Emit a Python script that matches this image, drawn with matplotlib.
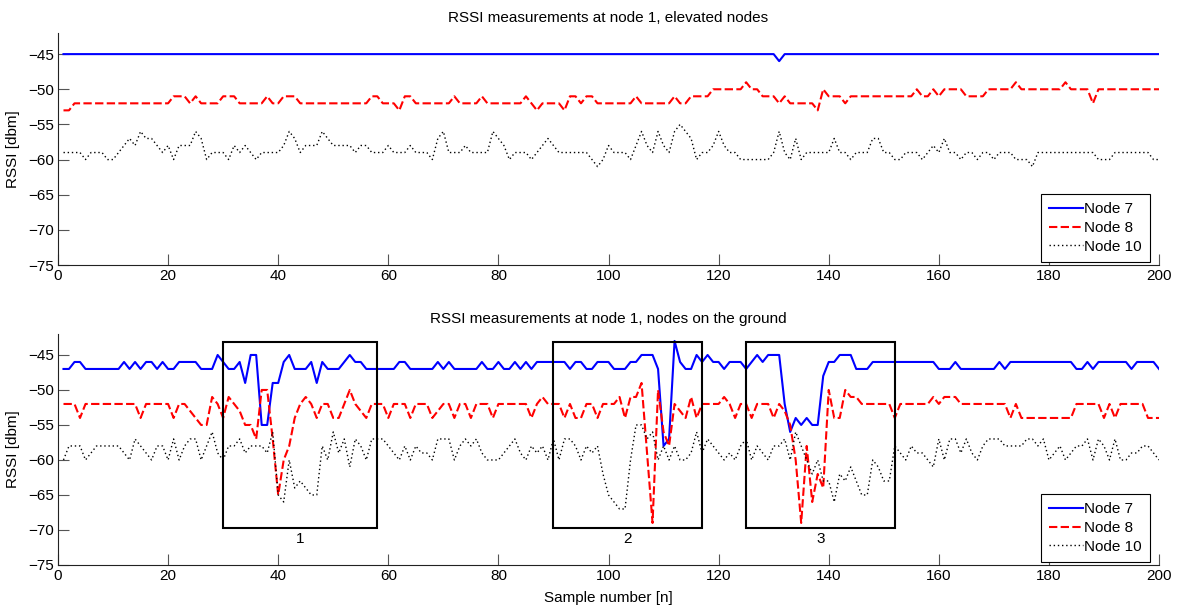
import numpy as np
import matplotlib
matplotlib.use('Agg')
import matplotlib.pyplot as plt
from matplotlib.patches import Rectangle

plt.rcParams['font.family'] = ['Liberation Sans', 'DejaVu Sans']

# sample index
n = np.arange(1, 201)

# --- elevated nodes (RSSI in dBm) ---
top_node7 = [-45] * 130 + [-46] + [-45] * 69

top_node8 = [
    -53, -53, -52, -52, -52, -52, -52, -52, -52, -52, -52, -52, -52, -52, -52, -52, -52, -52, -52, -52,
    -51, -51, -51, -52, -51, -52, -52, -52, -52, -51, -51, -51, -52, -52, -52, -52, -52, -51, -52, -52,
    -51, -51, -51, -52, -52, -52, -52, -52, -52, -52, -52, -52, -52, -52, -52, -52, -51, -51, -52, -52,
    -52, -53, -51, -51, -52, -52, -52, -52, -52, -52, -52, -51, -52, -52, -52, -52, -51, -52, -52, -52,
    -52, -52, -52, -52, -51, -52, -53, -52, -52, -52, -52, -53, -51, -51, -52, -51, -51, -52, -52, -52,
    -52, -52, -52, -52, -51, -52, -52, -52, -52, -52, -52, -51, -52, -52, -51, -51, -51, -51, -50, -50,
    -50, -50, -50, -50, -49, -50, -50, -51, -51, -51, -52, -51, -52, -52, -52, -52, -52, -53, -50, -51,
    -51, -51, -52, -51, -51, -51, -51, -51, -51, -51, -51, -51, -51, -51, -51, -50, -51, -51, -50, -51,
    -50, -50, -50, -50, -51, -51, -51, -51, -50, -50, -50, -50, -50, -49, -50, -50, -50, -50, -50, -50,
    -50, -50, -49, -50, -50, -50, -50, -52, -50, -50, -50, -50, -50, -50, -50, -50, -50, -50, -50, -50,
]

top_node10 = [
    -59, -59, -59, -59, -60, -59, -59, -59, -60, -60, -59, -58, -57, -58, -56, -57, -57, -58, -59, -58,
    -60, -58, -58, -58, -56, -57, -60, -59, -59, -59, -60, -58, -59, -58, -59, -60, -59, -59, -59, -59,
    -58, -56, -57, -59, -58, -58, -58, -56, -57, -58, -58, -58, -58, -59, -58, -58, -59, -59, -59, -58,
    -59, -59, -59, -58, -59, -59, -59, -60, -57, -56, -59, -59, -59, -58, -59, -59, -59, -59, -56, -57,
    -58, -60, -59, -59, -59, -60, -59, -58, -57, -58, -59, -59, -59, -59, -59, -59, -60, -61, -60, -58,
    -59, -59, -59, -60, -58, -56, -58, -59, -56, -58, -59, -56, -55, -56, -57, -60, -59, -59, -58, -56,
    -58, -59, -59, -60, -60, -60, -60, -60, -60, -59, -56, -59, -60, -57, -60, -59, -59, -59, -59, -59,
    -57, -59, -59, -60, -59, -59, -59, -57, -57, -59, -59, -60, -60, -59, -59, -59, -60, -59, -58, -59,
    -57, -59, -59, -60, -59, -59, -60, -59, -59, -60, -59, -59, -59, -60, -60, -60, -61, -59, -59, -59,
    -59, -59, -59, -59, -59, -59, -59, -59, -60, -60, -60, -59, -59, -59, -59, -59, -59, -59, -60, -60,
]

# --- nodes on the ground ---
gnd_node7 = [
    -47, -47, -46, -46, -47, -47, -47, -47, -47, -47, -47, -46, -47, -46, -47, -46, -46, -47, -46, -47,
    -47, -46, -46, -46, -46, -47, -47, -47, -45, -46, -47, -47, -46, -49, -45, -45, -55, -55, -49, -49,
    -46, -45, -47, -47, -47, -46, -49, -46, -47, -47, -47, -46, -45, -46, -46, -47, -47, -47, -47, -47,
    -47, -46, -46, -47, -47, -47, -47, -47, -46, -47, -46, -47, -47, -47, -47, -47, -46, -47, -47, -46,
    -47, -47, -46, -47, -46, -47, -46, -46, -46, -46, -46, -46, -47, -46, -46, -47, -47, -46, -46, -46,
    -47, -47, -47, -46, -46, -45, -45, -45, -47, -58, -57, -43, -46, -47, -47, -45, -46, -45, -46, -46,
    -47, -46, -46, -46, -47, -46, -45, -46, -45, -45, -45, -52, -56, -54, -55, -54, -55, -55, -48, -46,
    -46, -45, -45, -45, -47, -47, -47, -46, -46, -46, -46, -46, -46, -46, -46, -46, -46, -46, -46, -47,
    -47, -47, -46, -47, -47, -47, -47, -47, -47, -47, -46, -47, -46, -46, -46, -46, -46, -46, -46, -46,
    -46, -46, -46, -46, -47, -47, -46, -47, -46, -46, -46, -46, -46, -46, -47, -46, -46, -46, -46, -47,
]

gnd_node8 = [
    -52, -52, -52, -54, -52, -52, -52, -52, -52, -52, -52, -52, -52, -52, -54, -52, -52, -52, -52, -52,
    -54, -52, -52, -53, -54, -55, -55, -51, -52, -54, -51, -52, -53, -55, -55, -57, -50, -50, -57, -65,
    -60, -58, -54, -52, -51, -52, -54, -52, -52, -54, -54, -52, -50, -52, -53, -54, -52, -52, -52, -54,
    -52, -52, -52, -54, -52, -52, -52, -54, -53, -52, -52, -54, -52, -52, -54, -52, -52, -52, -54, -52,
    -52, -52, -52, -52, -52, -54, -52, -51, -52, -52, -52, -54, -52, -54, -54, -52, -52, -54, -52, -52,
    -52, -51, -54, -51, -51, -49, -59, -69, -50, -56, -58, -52, -53, -54, -51, -54, -52, -52, -52, -52,
    -51, -52, -54, -52, -52, -54, -52, -52, -52, -54, -52, -53, -55, -60, -69, -58, -66, -62, -64, -50,
    -54, -54, -50, -51, -51, -52, -52, -52, -52, -52, -52, -54, -52, -52, -52, -52, -52, -52, -51, -52,
    -51, -51, -51, -52, -52, -52, -52, -52, -52, -52, -52, -52, -54, -52, -54, -54, -54, -54, -54, -54,
    -54, -54, -54, -54, -52, -52, -52, -52, -52, -54, -52, -54, -52, -52, -52, -52, -52, -54, -54, -54,
]

gnd_node10 = [
    -60, -58, -58, -58, -60, -59, -58, -58, -58, -58, -58, -59, -60, -57, -58, -59, -60, -58, -58, -60,
    -57, -60, -58, -57, -57, -60, -58, -56, -59, -60, -58, -58, -57, -59, -58, -58, -58, -59, -56, -65,
    -66, -60, -64, -63, -64, -65, -65, -58, -60, -56, -59, -57, -61, -57, -58, -60, -57, -57, -57, -58,
    -59, -60, -58, -60, -58, -59, -59, -60, -57, -57, -57, -60, -58, -57, -58, -57, -59, -60, -60, -60,
    -59, -58, -57, -59, -60, -58, -59, -58, -60, -57, -60, -57, -57, -58, -60, -58, -59, -58, -62, -65,
    -66, -67, -67, -60, -55, -55, -57, -56, -60, -58, -60, -58, -60, -60, -59, -56, -59, -57, -58, -59,
    -60, -59, -60, -58, -57, -60, -58, -59, -60, -58, -58, -57, -60, -56, -58, -60, -62, -60, -63, -63,
    -66, -62, -63, -61, -63, -65, -65, -60, -61, -63, -63, -58, -59, -60, -58, -59, -59, -60, -61, -57,
    -60, -57, -57, -59, -57, -59, -60, -58, -57, -57, -57, -58, -58, -58, -58, -57, -57, -58, -57, -60,
    -59, -58, -60, -59, -58, -58, -57, -60, -57, -58, -60, -57, -60, -60, -59, -59, -58, -58, -59, -60,
]

# highlighted intervals on the ground plot: (start, end, label)
zones = [(30, 58, '1'), (90, 117, '2'), (125, 152, '3')]
zone_top = -43.1
zone_bottom = -69.7

labels = ['Node 7', 'Node 8', 'Node 10']
styles = [dict(color='b', ls='-', lw=1.5),
          dict(color='r', ls=(0, (4, 1.6)), lw=1.5),
          dict(color='k', ls=(0, (1, 2)), lw=1.0)]

fs = 11

fig = plt.figure(figsize=(11.81, 6.06), dpi=100)
ax1 = fig.add_axes([0.0491, 0.5627, 0.9323, 0.3828])
ax2 = fig.add_axes([0.0491, 0.0677, 0.9323, 0.3812])

for ax, series, title in [
        (ax1, [top_node7, top_node8, top_node10], 'RSSI measurements at node 1, elevated nodes'),
        (ax2, [gnd_node7, gnd_node8, gnd_node10], 'RSSI measurements at node 1, nodes on the ground')]:
    for y, lab, st in zip(series, labels, styles):
        ax.plot(n, y, label=lab, **st)
    ax.set_xlim(0, 200)
    ax.set_ylim(-75, -42)
    ax.set_xticks(np.arange(0, 201, 20))
    ax.set_yticks(np.arange(-75, -44, 5))
    ax.tick_params(direction='in', length=8, width=0.8, labelsize=fs, color='#555555', pad=3)
    for side in ['top', 'right']:
        ax.spines[side].set_visible(False)
    for side in ['left', 'bottom']:
        ax.spines[side].set_color('#222222')
        ax.spines[side].set_linewidth(0.8)
    ax.set_title(title, fontsize=fs, pad=8)
    ax.set_ylabel('RSSI [dbm]', fontsize=fs, labelpad=6)
    leg = ax.legend(loc='lower right', bbox_to_anchor=(0.992, 0.013), borderaxespad=0,
                    fancybox=False, framealpha=1, edgecolor='k', fontsize=fs,
                    handlelength=2.2, handletextpad=0.1, labelspacing=0.3, borderpad=0.55)
    leg.get_frame().set_linewidth(0.8)

for x0, x1, lab in zones:
    ax2.add_patch(Rectangle((x0, zone_bottom), x1 - x0, zone_top - zone_bottom,
                            fill=False, edgecolor='k', lw=1.5, zorder=5))
    ax2.text((x0 + x1) / 2, zone_bottom - 0.6, lab, ha='center', va='top', fontsize=fs)

ax2.set_xlabel('Sample number [n]', fontsize=fs, labelpad=6)

fig.savefig('out.png', dpi=100)
